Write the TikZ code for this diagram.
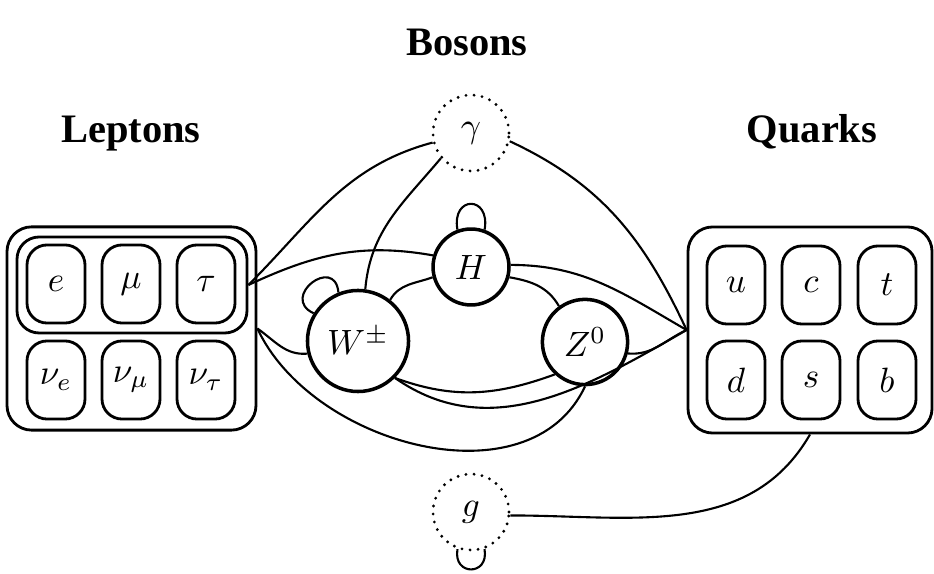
\documentclass[tikz,border=0pt]{standalone}
\usepackage{amsmath}
\usepackage{fontspec}
\newfontfamily\headfont{Liberation Serif}

\begin{document}
\begin{tikzpicture}[x=0.01cm, y=0.01cm,
  particle/.style={draw, rounded corners=5.7pt, line width=0.8pt,
    minimum width=16.5pt, minimum height=22.2pt, inner sep=0pt},
  family/.style={draw, rounded corners=7pt, line width=0.8pt, inner sep=0pt},
  boson/.style={draw, circle, line width=1pt, minimum size=21.6pt, inner sep=3.5pt},
  gauge/.style={boson, line width=0.9pt, dash pattern=on 0pt off 2.3pt, line cap=round},
  link/.style={line width=0.6pt},
  heading/.style={font=\headfont\bfseries\fontsize{11.5}{14}\selectfont, anchor=base}]
\useasboundingbox (0,0) rectangle (934,-574);

\node[heading] (bosons-title) at (467,-56) {Bosons};
\node[heading] (leptons-title) at (131,-143) {Leptons};
\node[heading] (quarks-title) at (812,-143) {Quarks};

% fermion families
\node[family, minimum width=70.8pt, minimum height=57.8pt] (leptons) at (131.5,-328.5) {};
\node[family, rounded corners=6.3pt, minimum width=65.4pt, minimum height=27.3pt] (charged) at (132,-285) {};
\node[family, minimum width=69.4pt, minimum height=58.6pt] (quarks) at (810,-330) {};

\node[particle] (e) at (56,-284) {$e$};
\node[particle] (mu) at (131,-284) {$\mu$};
\node[particle] (tau) at (206,-284) {$\tau$};
\node[particle] (nue) at (56,-380) {$\nu_e$};
\node[particle] (numu) at (131,-380) {$\nu_\mu$};
\node[particle] (nutau) at (206,-380) {$\nu_\tau$};

\node[particle] (u) at (736,-285) {$u$};
\node[particle] (c) at (811,-285) {$c$};
\node[particle] (t) at (887,-285) {$t$};
\node[particle] (d) at (736,-380) {$d$};
\node[particle] (s) at (811,-380) {$s$};
\node[particle] (b) at (887,-380) {$b$};

% bosons
\node[gauge] (gamma) at (471,-133) {$\gamma$};
\node[boson] (H) at (471,-267) {$H$};
\node[boson] (W) at (358,-341) {$W^\pm$};
\node[boson] (Z) at (585,-342) {$Z^0$};
\node[gauge] (g) at (471,-512) {$g$};

% couplings
\draw[link] (charged.east) to[out=45, in=195] (gamma.194);
\draw[link] (charged.east) to[out=25, in=170] (H.163);
\draw[link] (gamma.220) to[out=230, in=85] (W.82);
\draw[link] (gamma.-12) to[out=-25, in=115] (quarks.west);
\draw[link] (H.3) to[out=0, in=150] (quarks.west);
\draw[link] (H.-15) to[out=-10, in=120] (Z.126);
\draw[link] (H.195) to[out=200, in=60] (W.52);
\draw[link] (W.-45) to[out=-20, in=200] (Z.227);
\draw[link] (W.-45) to[out=-35, in=210] (quarks.west);
\draw[link] (leptons.east) to[out=-35, in=185] (W.194);
\draw[link] (leptons.east) to[out=-65, in=245] (Z.270);
\draw[link] (Z.-15) to[out=-5, in=205] (quarks.west);
\draw[link] (quarks.south) to[out=240, in=0] (g.-5);

% self couplings
\draw[link] (H.110) to[out=100, in=80, looseness=3.3] (H.70);
\draw[link] (W.148) to[out=155, in=95, looseness=3] (W.112);
\draw[link] (g.250) to[out=260, in=280, looseness=2.6] (g.290);

\end{tikzpicture}
\end{document}
